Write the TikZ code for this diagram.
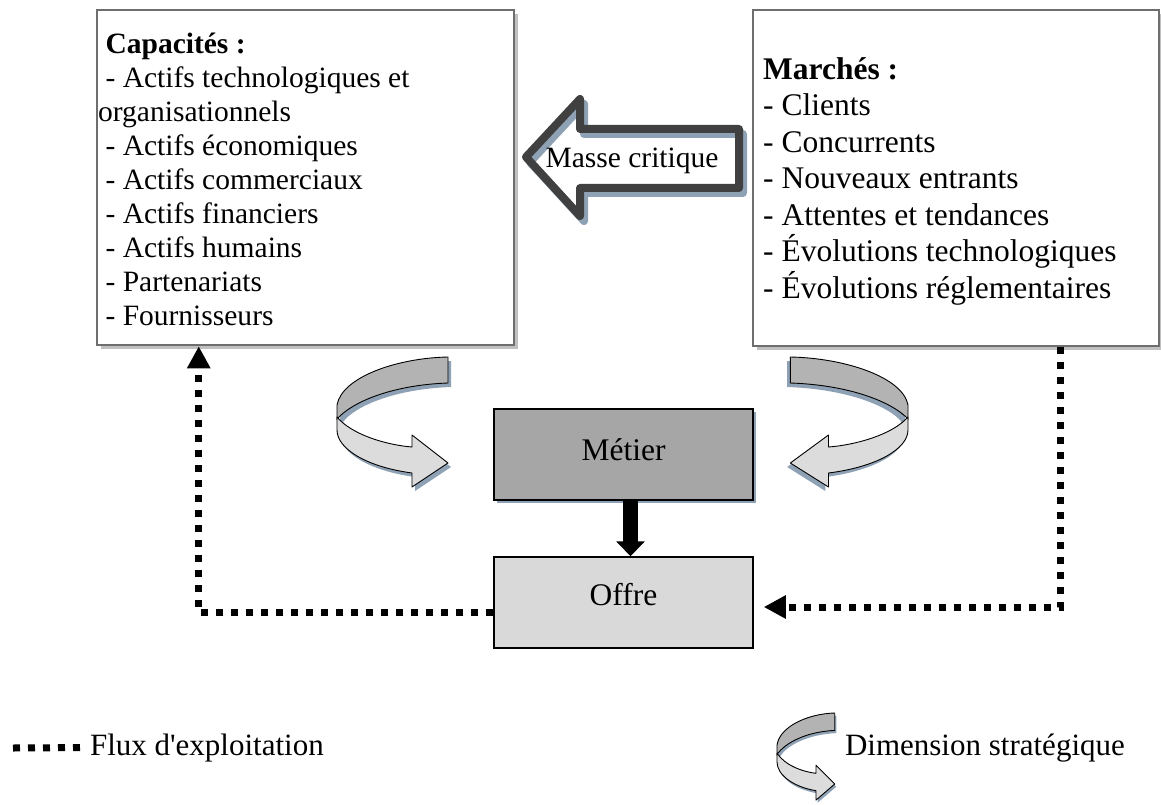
\documentclass[tikz,border=0pt]{standalone}
\usepackage{fontspec}
\setmainfont{Liberation Serif}
\usetikzlibrary{arrows.meta,positioning,shadows}

\definecolor{boxline}{HTML}{6E6E6E}
\definecolor{boxshade}{HTML}{C0C0C0}
\definecolor{blueshade}{HTML}{8FA2B5}
\definecolor{darkfill}{HTML}{A6A6A6}
\definecolor{lightfill}{HTML}{D9D9D9}
\definecolor{backfill}{HTML}{B3B3B3}
\definecolor{frontfill}{HTML}{DCDCDC}
\definecolor{outline}{HTML}{404040}

\tikzset{
    bigbox/.style={draw=boxline, line width=2.5pt, fill=white, inner sep=0pt,
        drop shadow={shadow xshift=4pt, shadow yshift=-4pt, fill=boxshade, opacity=1}},
    stagebox/.style={draw=black, line width=1.5pt, minimum width=259pt, minimum height=91pt, inner sep=0pt,
        font=\fontsize{31.5pt}{36.5pt}\selectfont},
    listtext/.style={anchor=north west, inner sep=0pt, align=left},
    legendtext/.style={anchor=base west, font=\fontsize{31pt}{36pt}\selectfont},
    flux/.style={line width=7pt, dash pattern=on 7pt off 8pt},
    fluxtip/.style={-{Triangle[length=22pt,width=22pt]}},
    ribbon/.pic={
        % shadow
        \fill[blueshade, shift={(3,4)}] (111,0) .. controls (60,1) and (5,20) .. (0,48) -- (0,73)
            .. controls (0,92) and (30,110) .. (75,116) -- (75,130) -- (111,106) -- (75,78) -- (75,90)
            .. controls (50,88) and (15,78) .. (3,61) .. controls (15,45) and (55,28) .. (111,26) -- cycle;
        % back of the band
        \draw[fill=backfill, line width=0.9pt] (111,0) .. controls (60,1) and (5,20) .. (0,48) -- (0,62)
            .. controls (15,45) and (55,28) .. (111,26) -- cycle;
        % front of the band
        \draw[fill=frontfill, line width=0.9pt, line join=round] (0,60) -- (0,73) .. controls (0,92) and (30,110) .. (75,116)
            -- (75,130) -- (111,106) -- (75,78) -- (75,90) .. controls (50,88) and (15,78) .. (0,60) -- cycle;
    }
}

\begin{document}
\begin{tikzpicture}[x=1pt, y=-1pt, font=\fontsize{29.5pt}{34pt}\selectfont]
    \useasboundingbox (0,0) rectangle (1161,805);

    % the two boxes
    \node[bigbox, minimum width=417pt, minimum height=335pt] (capacites) at (305.5,177.5) {};
    \node[bigbox, minimum width=406pt, minimum height=336pt] (marches) at (956,178) {};

    \node[listtext] (captext) at (98,32.5) {\ \textbf{Capacités :}\\
        \ - Actifs technologiques et\\
        organisationnels\\
        \ - Actifs économiques\\
        \ - Actifs commerciaux\\
        \ - Actifs financiers\\
        \ - Actifs humains\\
        \ - Partenariats\\
        \ - Fournisseurs};
    \node[listtext, font=\fontsize{31.5pt}{36.5pt}\selectfont] (martext) at (763,57) {\textbf{Marchés :}\\
        - Clients\\
        - Concurrents\\
        - Nouveaux entrants\\
        - Attentes et tendances\\
        - Évolutions technologiques\\
        - Évolutions réglementaires};

    % masse critique
    \fill[white] (526,157) -- (580,99) -- (580,129) -- (739,129) -- (739,188) -- (580,188) -- (580,216) -- cycle;
    \draw[blueshade, line width=8pt, line join=round, shift={(4,5)}] (526,157) -- (580,99) -- (580,129)
        -- (739,129) -- (739,188) -- (580,188) -- (580,216) -- cycle;
    \draw[outline, line width=8pt, line join=round] (526,157) -- (580,99) -- (580,129)
        -- (739,129) -- (739,188) -- (580,188) -- (580,216) -- cycle;
    \node (masse) at (632,161) {Masse critique};

    % metier and offre
    \node[stagebox, fill=darkfill, text depth=10.5pt,
        drop shadow={shadow xshift=3pt, shadow yshift=-3pt, fill=blueshade, opacity=1}] (metier) at (623.5,454.5) {Métier};
    \node[stagebox, fill=lightfill, text depth=16.5pt] (offre) at (623.5,602.5) {Offre};
    \draw[line width=15pt, -{Triangle[length=15pt,width=28pt]}] ([xshift=7pt]metier.south) -- ([xshift=7pt]offre.north);

    % curved arrows
    \pic at (337,357) {ribbon};
    \pic[xscale=-1.06] at (908,357) {ribbon};

    % flux
    \draw[flux, fluxtip] ([yshift=-9.5pt]offre.west) -| ([xshift=103pt]capacites.south west);
    \draw[flux, fluxtip] ([xshift=309pt]marches.south west) |- ([xshift=10pt, yshift=-4.5pt]offre.east);

    % legend
    \coordinate (fluxstart) at (13,748);
    \node[legendtext] (fluxlabel) at (86.5,755) {Flux d\textquotesingle exploitation};
    \draw[flux] (fluxstart) -- (fluxlabel.west);
    \pic[xscale=0.52, yscale=0.67] at (777,713) {ribbon};
    \node[legendtext] (dimlabel) at (841.5,755) {Dimension stratégique};
\end{tikzpicture}
\end{document}
